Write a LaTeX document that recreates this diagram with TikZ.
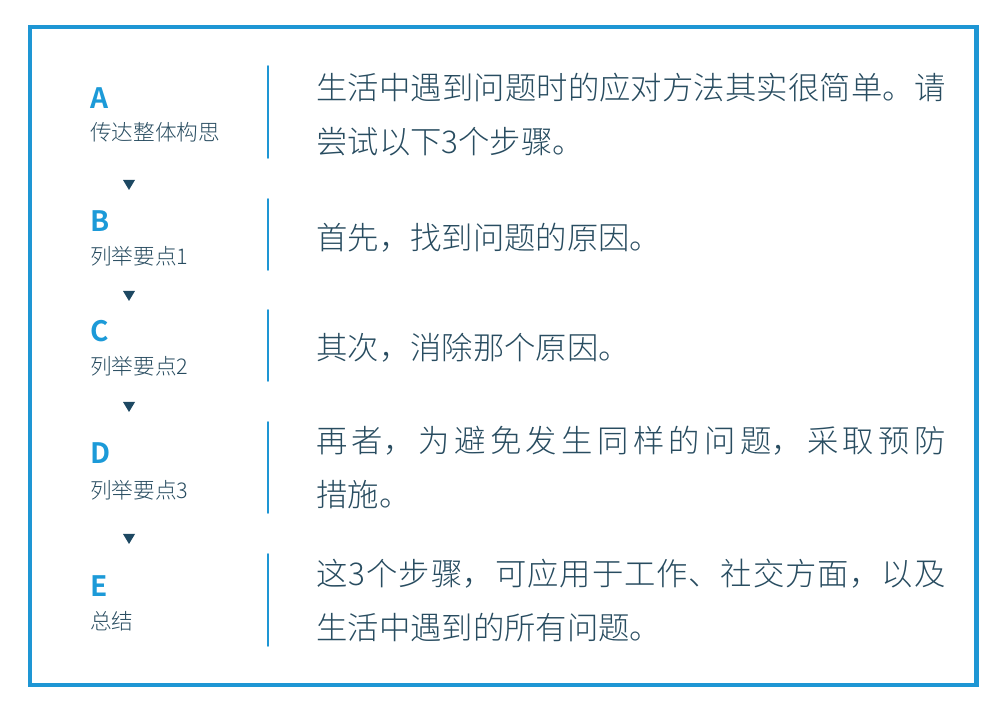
\documentclass[tikz,border=0pt]{standalone}
\usepackage{fontspec}
\newfontfamily\zhfont[UprightFont=* Light, BoldFont=* Bold]{Noto Sans CJK SC}
\XeTeXlinebreaklocale "zh"
\XeTeXlinebreakskip = 0pt plus 6pt
\definecolor{frameblue}{HTML}{1E96D4}
\definecolor{letterblue}{HTML}{1C9AD8}
\definecolor{inkgray}{HTML}{284C60}
\definecolor{tridark}{HTML}{1D4862}
\begin{document}
\begin{tikzpicture}[x=0.025cm, y=-0.025cm, line join=round, line cap=round,
	letter/.style={anchor=west, inner sep=0pt, text=letterblue, font=\zhfont\bfseries\fontsize{20}{24}\selectfont},
	sub/.style={anchor=west, inner sep=0pt, text=inkgray, font=\zhfont\fontsize{15.4}{18}\selectfont},
	body/.style={anchor=base west, inner sep=0pt, text=inkgray, text width=15.725cm, align=justify, font=\zhfont\fontsize{22.3}{37.9}\selectfont},
	sep/.style={draw=frameblue, line width=1.2pt},
	tri/.style={fill=tridark}]
	\useasboundingbox (0,0) rectangle (1000,720);
	\draw[frameblue, line width=3.2pt, line cap=butt, line join=miter] (30,27) rectangle (976.5,685);
	% left column
	\node[letter] (la) at (90,98) {A};
	\node[sub] (sa) at (90,132) {传达整体构思};
	\node[letter] (lb) at (90,221) {B};
	\node[sub] (sb) at (90,256) {列举要点1};
	\node[letter] (lc) at (90,331) {C};
	\node[sub] (sc) at (90,366) {列举要点2};
	\node[letter] (ld) at (90,453) {D};
	\node[sub] (sd) at (90,490) {列举要点3};
	\node[letter] (le) at (90,586) {E};
	\node[sub] (se) at (90,621) {总结};
	\fill[tri] (123,180) -- (135,180) -- (129,190) -- cycle;
	\fill[tri] (123,291) -- (135,291) -- (129,301) -- cycle;
	\fill[tri] (123,402) -- (135,402) -- (129,412) -- cycle;
	\fill[tri] (123,534) -- (135,534) -- (129,544) -- cycle;
	% separators
	\draw[sep] (268,66) -- (268,158) (268,199) -- (268,270) (268,310) -- (268,381)
		(268,422) -- (268,513) (268,554) -- (268,646);
	% right column
	\node[body] (ta) at (316,100) {生活中遇到问题时的应对方法其实很简单。请\linebreak 尝试以下3个步骤。};
	\node[body] (tb) at (316,250) {首先，找到问题的原因。};
	\node[body] (tc) at (316,360) {其次，消除那个原因。};
	\node[body] (td) at (316,453) {再者，为避免发生同样的问题，采取预防\linebreak 措施。};
	\node[body] (te) at (316,586) {这3个步骤，可应用于工作、社交方面，以及\linebreak 生活中遇到的所有问题。};
\end{tikzpicture}
\end{document}
